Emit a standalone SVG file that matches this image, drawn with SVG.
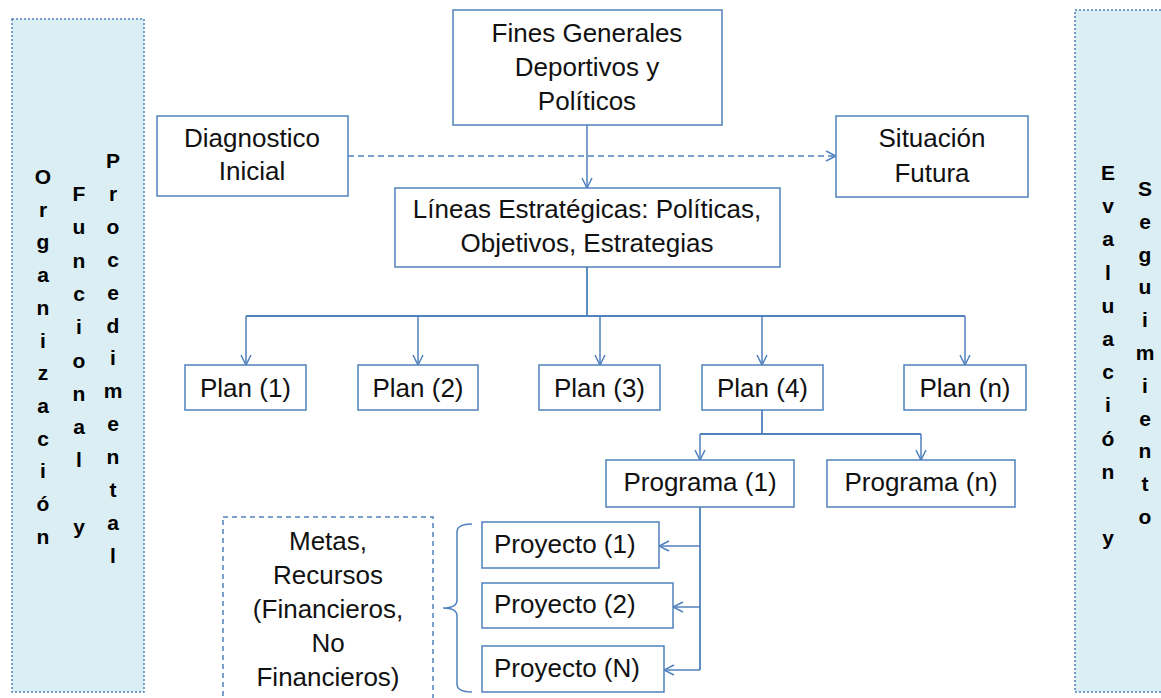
<svg xmlns="http://www.w3.org/2000/svg" width="1161" height="698" viewBox="0 0 1161 698">
<style>
.box{fill:#fff;stroke:#4F81BD;stroke-width:1.5}
.panel{fill:#DAEEF3;stroke:#4F81BD;stroke-width:1.5;stroke-dasharray:2,2}
.t{font-family:"Liberation Sans",Arial,sans-serif;font-size:26px;fill:#111;text-anchor:middle}
.v{font-family:"Liberation Sans",Arial,sans-serif;font-size:21px;font-weight:bold;fill:#000;text-anchor:middle}
.c{fill:none;stroke:#4F81BD;stroke-width:1.5}
.a{marker-end:url(#arr)}
</style>
<defs>
<marker id="arr" viewBox="0 0 12 12" refX="11" refY="6" markerWidth="12" markerHeight="12" markerUnits="userSpaceOnUse" orient="auto">
<path d="M1,1 L11,6 L1,11" fill="none" stroke="#4F81BD" stroke-width="1.5"/>
</marker>
</defs>

<g id="panel-left">
<rect class="panel" x="12" y="19" width="132" height="673"/>
<text class="v"><tspan x="43" y="184">O</tspan><tspan x="43" dy="32.7">r</tspan><tspan x="43" dy="32.7">g</tspan><tspan x="43" dy="32.7">a</tspan><tspan x="43" dy="32.7">n</tspan><tspan x="43" dy="32.7">i</tspan><tspan x="43" dy="32.7">z</tspan><tspan x="43" dy="32.7">a</tspan><tspan x="43" dy="32.7">c</tspan><tspan x="43" dy="32.7">i</tspan><tspan x="43" dy="32.7">ó</tspan><tspan x="43" dy="32.7">n</tspan></text>
<text class="v"><tspan x="79" y="201">F</tspan><tspan x="79" dy="33.3">u</tspan><tspan x="79" dy="33.3">n</tspan><tspan x="79" dy="33.3">c</tspan><tspan x="79" dy="33.3">i</tspan><tspan x="79" dy="33.3">o</tspan><tspan x="79" dy="33.3">n</tspan><tspan x="79" dy="33.3">a</tspan><tspan x="79" dy="33.3">l</tspan><tspan x="79" dy="66.6">y</tspan></text>
<text class="v"><tspan x="113" y="168">P</tspan><tspan x="113" dy="32.9">r</tspan><tspan x="113" dy="32.9">o</tspan><tspan x="113" dy="32.9">c</tspan><tspan x="113" dy="32.9">e</tspan><tspan x="113" dy="32.9">d</tspan><tspan x="113" dy="32.9">i</tspan><tspan x="113" dy="32.9">m</tspan><tspan x="113" dy="32.9">e</tspan><tspan x="113" dy="32.9">n</tspan><tspan x="113" dy="32.9">t</tspan><tspan x="113" dy="32.9">a</tspan><tspan x="113" dy="32.9">l</tspan></text>
</g>

<g id="panel-right">
<rect class="panel" x="1075" y="10" width="90" height="682"/>
<text class="v"><tspan x="1108" y="180">E</tspan><tspan x="1108" dy="33.2">v</tspan><tspan x="1108" dy="33.2">a</tspan><tspan x="1108" dy="33.2">l</tspan><tspan x="1108" dy="33.2">u</tspan><tspan x="1108" dy="33.2">a</tspan><tspan x="1108" dy="33.2">c</tspan><tspan x="1108" dy="33.2">i</tspan><tspan x="1108" dy="33.2">ó</tspan><tspan x="1108" dy="33.2">n</tspan><tspan x="1108" dy="66.4">y</tspan></text>
<text class="v"><tspan x="1145" y="196">S</tspan><tspan x="1145" dy="32.8">e</tspan><tspan x="1145" dy="32.8">g</tspan><tspan x="1145" dy="32.8">u</tspan><tspan x="1145" dy="32.8">i</tspan><tspan x="1145" dy="32.8">m</tspan><tspan x="1145" dy="32.8">i</tspan><tspan x="1145" dy="32.8">e</tspan><tspan x="1145" dy="32.8">n</tspan><tspan x="1145" dy="32.8">t</tspan><tspan x="1145" dy="32.8">o</tspan></text>
</g>

<g id="connectors">
<path class="c a" d="M587,125 V188"/>
<path class="c a" d="M348,156 H836" stroke-dasharray="6,4"/>
<path class="c" d="M587,267 V316 M246,316 H965" style="stroke-width:1.8"/>
<path class="c a" d="M246,316 V365"/>
<path class="c a" d="M418,316 V365"/>
<path class="c a" d="M600,316 V365"/>
<path class="c a" d="M762,316 V365"/>
<path class="c a" d="M965,316 V365"/>
<path class="c" d="M762,410 V434 M700,434 H921" style="stroke-width:1.8"/>
<path class="c a" d="M700,434 V460"/>
<path class="c a" d="M921,434 V460"/>
<path class="c" d="M700,507 V670" style="stroke-width:1.8"/>
<path class="c a" d="M700,546 H659"/>
<path class="c a" d="M700,607 H673"/>
<path class="c a" d="M700,670 H664"/>
<path class="c" d="M472,524 Q457,524 457,532 V600 Q457,608 443,608 Q457,608 457,616 V684 Q457,692 472,692"/>
</g>

<g id="fines">
<rect class="box" x="453" y="10" width="269" height="115"/>
<text class="t"><tspan x="587" y="42">Fines Generales</tspan><tspan x="587" y="76">Deportivos y</tspan><tspan x="587" y="110">Políticos</tspan></text>
</g>
<g id="diagnostico">
<rect class="box" x="157" y="116" width="191" height="80"/>
<text class="t"><tspan x="252" y="147">Diagnostico</tspan><tspan x="252" y="180">Inicial</tspan></text>
</g>
<g id="situacion">
<rect class="box" x="836" y="116" width="192" height="81"/>
<text class="t"><tspan x="932" y="147">Situación</tspan><tspan x="932" y="182">Futura</tspan></text>
</g>
<g id="lineas">
<rect class="box" x="395" y="188" width="385" height="79"/>
<text class="t"><tspan x="587" y="218">Líneas Estratégicas: Políticas,</tspan><tspan x="587" y="252">Objetivos, Estrategias</tspan></text>
</g>
<g id="plan1"><rect class="box" x="185" y="365" width="121" height="45"/><text class="t" x="245.5" y="397">Plan (1)</text></g>
<g id="plan2"><rect class="box" x="358" y="365" width="120" height="45"/><text class="t" x="418" y="397">Plan (2)</text></g>
<g id="plan3"><rect class="box" x="539" y="365" width="121" height="45"/><text class="t" x="599.5" y="397">Plan (3)</text></g>
<g id="plan4"><rect class="box" x="702" y="365" width="121" height="45"/><text class="t" x="762.5" y="397">Plan (4)</text></g>
<g id="plann"><rect class="box" x="904" y="365" width="122" height="45"/><text class="t" x="965" y="397">Plan (n)</text></g>
<g id="programa1"><rect class="box" x="606" y="460" width="188" height="47"/><text class="t" x="700" y="491">Programa (1)</text></g>
<g id="programan"><rect class="box" x="827" y="460" width="188" height="47"/><text class="t" x="921" y="491">Programa (n)</text></g>
<g id="proyecto1"><rect class="box" x="482" y="522" width="177" height="46"/><text class="t" x="494" y="553" style="text-anchor:start">Proyecto (1)</text></g>
<g id="proyecto2"><rect class="box" x="482" y="583" width="191" height="45"/><text class="t" x="494" y="613" style="text-anchor:start">Proyecto (2)</text></g>
<g id="proyecton"><rect class="box" x="482" y="646" width="182" height="46"/><text class="t" x="494" y="677" style="text-anchor:start">Proyecto (N)</text></g>
<g id="metas">
<rect x="223" y="517" width="210" height="190" fill="none" stroke="#4F81BD" stroke-width="1.5" stroke-dasharray="5,4"/>
<text class="t"><tspan x="328" y="550">Metas,</tspan><tspan x="328" y="584">Recursos</tspan><tspan x="328" y="618">(Financieros,</tspan><tspan x="328" y="652">No</tspan><tspan x="328" y="686">Financieros)</tspan></text>
</g>
</svg>
